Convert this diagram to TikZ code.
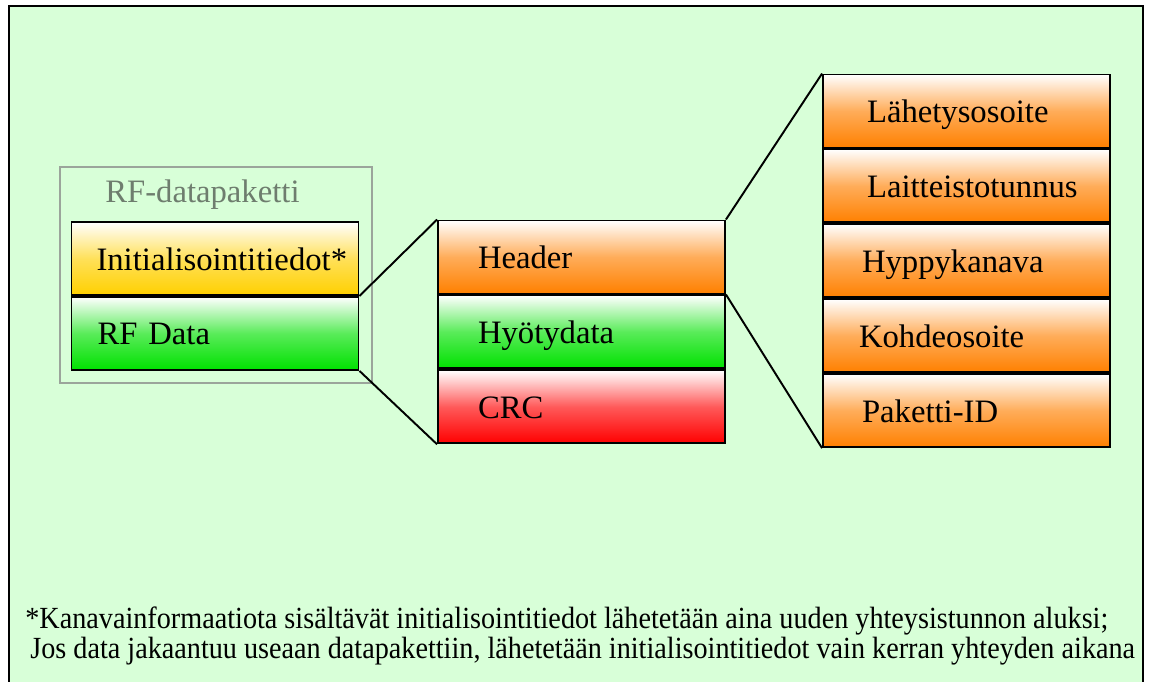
\documentclass[tikz,border=0pt]{standalone}
\usepackage{fontspec}
\setmainfont{Liberation Serif}
\newfontfamily\notefont[FakeStretch=0.917]{Liberation Serif}
\usetikzlibrary{positioning}
\definecolor{bggreen}{RGB}{216,255,216}
\definecolor{fieldorange}{RGB}{255,128,0}
\definecolor{fieldyellow}{RGB}{255,208,0}
\definecolor{fieldgreen}{RGB}{0,225,0}
\definecolor{fieldred}{RGB}{255,0,0}
\definecolor{framegray}{RGB}{155,165,155}
\definecolor{titlegray}{RGB}{110,125,110}
\tikzset{
  field/.style={draw=black, line width=1.1pt, top color=white, bottom color=#1, middle color=#1!65,
    minimum width=5.74cm, minimum height=1.46cm, text width=5.74cm,
    text height=0.96cm, text depth=0.5cm,
    inner xsep=0pt, inner ysep=0pt, align=left, font=\fontsize{18.6}{21}\selectfont},
  textpad/.style={execute at begin node={\noindent\hspace*{#1}}},
  link/.style={draw=black, line width=1.1pt},
}
\begin{document}
\begin{tikzpicture}[x=0.02cm, y=-0.02cm,
    packetframe/.style={draw=framegray, line width=1.1pt, minimum width=6.24cm, minimum height=4.32cm},
    titletext/.style={text=titlegray, font=\fontsize{18.6}{21}\selectfont, inner sep=0pt},
    notetext/.style={font=\notefont\fontsize{17.5}{15}\selectfont, inner sep=0pt, align=left}]
  \useasboundingbox[fill=white] (0,0) rectangle (1151,681);
  \draw[line width=1.3pt, fill=bggreen] (9,6) rectangle (1143,700);

  % RF-datapaketti
  \node[packetframe] (rfpacket) at (216,275) {};
  \node[titletext, anchor=west] (rftitle) at (105,195) {RF-datapaketti};
  \node[field=fieldyellow, textpad=0.5cm] (init) at (215,258.5) {Initialisointitiedot*};
  \node[field=fieldgreen, textpad=0.52cm] (rfdata) [below=0pt of init] {RF Data};

  % datapaketti
  \node[field=fieldorange, textpad=0.8cm] (header) at (581.5,257) {Header};
  \node[field=fieldgreen, textpad=0.8cm] (payload) [below=0pt of header] {Hyötydata};
  \node[field=fieldred, textpad=0.8cm] (crc) [below=0pt of payload] {CRC};

  % header
  \node[field=fieldorange, textpad=0.88cm] (source) at (966.5,111) {Lähetysosoite};
  \node[field=fieldorange, textpad=0.88cm] (device) [below=0pt of source] {Laitteistotunnus};
  \node[field=fieldorange, textpad=0.78cm] (hop) [below=0pt of device] {Hyppykanava};
  \node[field=fieldorange, textpad=0.72cm] (target) [below=0pt of hop] {Kohdeosoite};
  \node[field=fieldorange, textpad=0.78cm] (packetid) [below=0pt of target] {Paketti-ID};

  \draw[link] (init.south east) -- (header.north west);
  \draw[link] (rfdata.south east) -- (crc.south west);
  \draw[link] (header.north east) -- (source.north west);
  \draw[link] (header.south east) -- (packetid.south west);

  \node[notetext, anchor=base west] (note) at (25,658) {*Kanavainformaatiota sisältävät initialisointitiedot lähetetään aina uuden yhteysistunnon aluksi;\\
    \hspace*{0.1cm}Jos data jakaantuu useaan datapakettiin, lähetetään initialisointitiedot vain kerran yhteyden aikana};
\end{tikzpicture}
\end{document}
